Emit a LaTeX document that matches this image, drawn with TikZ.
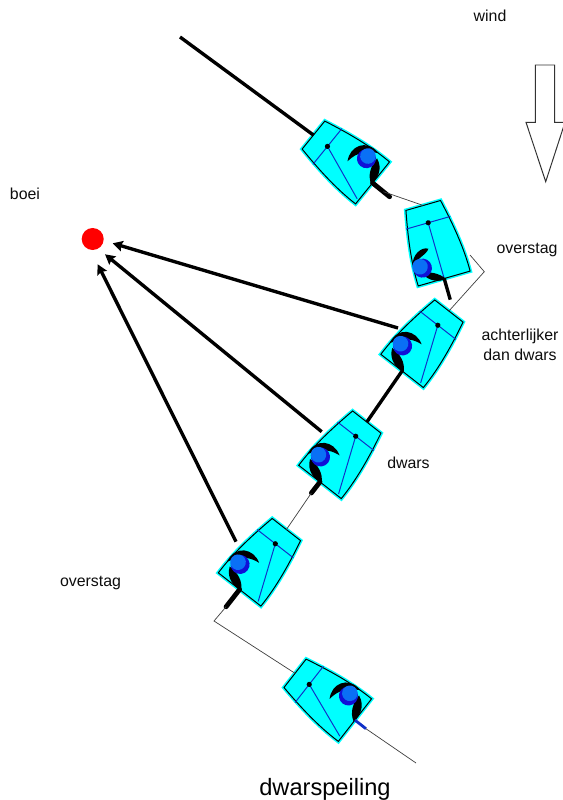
\documentclass[tikz,border=0pt]{standalone}
\usepackage{fontspec}
\setmainfont{Liberation Sans}
\usetikzlibrary{arrows.meta}
\definecolor{hullcyan}{RGB}{0,255,255}
\definecolor{rigblue}{RGB}{16,48,200}
\definecolor{crewdark}{RGB}{16,16,215}
\definecolor{crewlight}{RGB}{10,112,245}
\newcommand{\thinline}{0.5pt}
\newcommand{\wake}{2.4pt}
\newcommand{\rudder}{3.4pt}
\newcommand{\hullpath}{(-18,-38) -- (18,-38) .. controls (23,-14) and (27.5,12) .. (27,38) -- (-27,38) .. controls (-27.5,12) and (-23,-14) .. (-18,-38) -- cycle}
\newcommand{\boathull}{
\coordinate (-bow) at (0,-38);
\coordinate (-stern) at (0,38);
\coordinate (-rudder) at (0,52);
\coordinate (-tiller) at (0,60);
\coordinate (-mast) at (0,-20);
\fill[hullcyan,draw=hullcyan,line width=2.8pt] \hullpath;
\draw[black,line width=0.7pt] \hullpath;
\draw[rigblue,line width=0.7pt] (-23,-20) -- (23,-20);
}
\tikzset{
  x=0.025cm, y=-0.025cm,
  thinpath/.style={draw=black!75,line width=\thinline},
  wakepath/.style={draw=black,line width=\wake},
  rudderpath/.style={draw=black,line width=\rudder,line cap=round},
  bearing/.style={draw=black,line width=\wake,-{Stealth[length=7pt,width=7.5pt,inset=1pt]}},
  label/.style={font=\fontsize{11.3pt}{14pt}\selectfont,align=center,text=black!95},
  pics/boat/.style={code={
    \boathull
    \draw[rigblue,line width=0.7pt] (-mast) -- (22,36);
    \fill[black] (-mast) circle (2.6);
    \fill[black] (-27,24) .. controls (-31,5) and (-14,-3) .. (-1,5) .. controls (-9,6) and (-18,8) .. (-27,24) -- cycle;
    \fill[black] (-22,26) .. controls (-12,26) and (-3,29) .. (2,38) .. controls (-6,39) and (-17,38) .. (-22,26) -- cycle;
    \fill[crewdark] (-15,18) circle (9.5);
    \fill[crewlight] (-18,17.5) circle (7.8);
  }},
  pics/tackboat/.style={code={
    \boathull
    \draw[rigblue,line width=0.7pt] (-mast) -- (0,37);
    \fill[black] (-mast) circle (2.6);
    \fill[black] (-27,17) .. controls (-24,6) and (-13,1) .. (-7,5) .. controls (-10,10) and (-20,11) .. (-27,17) -- cycle;
    \fill[black] (-20,27) .. controls (-12,27) and (-4,31) .. (2,39) .. controls (-6,40) and (-15,37) .. (-20,27) -- cycle;
    \fill[crewdark] (-18,22) circle (9.5);
    \fill[crewlight] (-20,20) circle (7.8);
  }},
}

\begin{document}
\begin{tikzpicture}
\useasboundingbox (0,0) rectangle (562,800);
\fill[white] (0,0) rectangle (562,800);
%boats
\pic (b1) [rotate=51,xscale=-1] at (343,159) {boat};
\pic (b2) [rotate=16] at (433.7,242) {tackboat};
\pic (b3) [rotate=-38] at (425.5,341) {boat};
\pic (b4) [rotate=-38] at (343.4,452) {boat};
\pic (b5) [rotate=-38] at (263,559.5) {boat};
\pic (b6) [rotate=52,xscale=-1] at (325,696.7) {boat};
%free ends and turning points
\coordinate (start) at (180,37);
\coordinate (finish) at (416,763);
\coordinate (leave) at (470,255);
\coordinate (tack1) at (484.3,271.7);
\coordinate (tack2) at (214,621);
\coordinate (from3) at (398,328);
\coordinate (from4) at (321.7,431.7);
\coordinate (from5) at (236,541.7);
\coordinate (tip3) at (112.7,243.3);
\coordinate (tip4) at (105,254.3);
\coordinate (tip5) at (97.7,264.3);
%course
\draw[wakepath] (start) -- (b1-bow);
\draw[rudderpath] (b1-stern) -- (b1-tiller);
\draw[thinpath] (b1-rudder) -- (b2-bow);
\draw[wakepath] (b2-stern) -- (b2-tiller);
\draw[thinpath] (leave) -- (tack1) -- (b3-bow);
\draw[wakepath] (b3-stern) -- (b4-bow);
\draw[rudderpath] (b4-stern) -- (b4-rudder);
\draw[thinpath] (b4-rudder) -- (b5-bow);
\draw[rudderpath] (b5-stern) -- (b5-tiller);
\draw[thinpath] (b5-tiller) -- (tack2) -- (b6-bow);
\draw[rigblue,line width=2pt] (b6-stern) -- (b6-rudder);
\draw[thinpath] (b6-rudder) -- (finish);
%bearings on the buoy
\node[circle,fill=red,minimum size=0.55cm,inner sep=0pt] (boei) at (92.7,239) {};
\draw[bearing] (from3) -- (tip3);
\draw[bearing] (from4) -- (tip4);
\draw[bearing] (from5) -- (tip5);
%wind arrow
\draw[black!80,line width=0.7pt] (535.3,65) -- (554.7,65) -- (554.7,122.3) -- (565,122.3) -- (545.7,181.7) -- (526,122.3) -- (535.3,122.3) -- cycle;
%labels
\node[label] (wind) at (490,15.5) {wind};
\node[label] (buoy) at (25,194) {boei};
\node[label] (tack a) at (527,250.5) {overstag};
\node[label] (aft) at (520,345) {achterlijker\\dan dwars};
\node[label] (abeam) at (408.5,462.5) {dwars};
\node[label] (tack b) at (90.5,583) {overstag};
\node[font=\fontsize{16.8pt}{20pt}\selectfont,text=black] (title) at (325,789) {dwarspeiling};
\end{tikzpicture}
\end{document}
